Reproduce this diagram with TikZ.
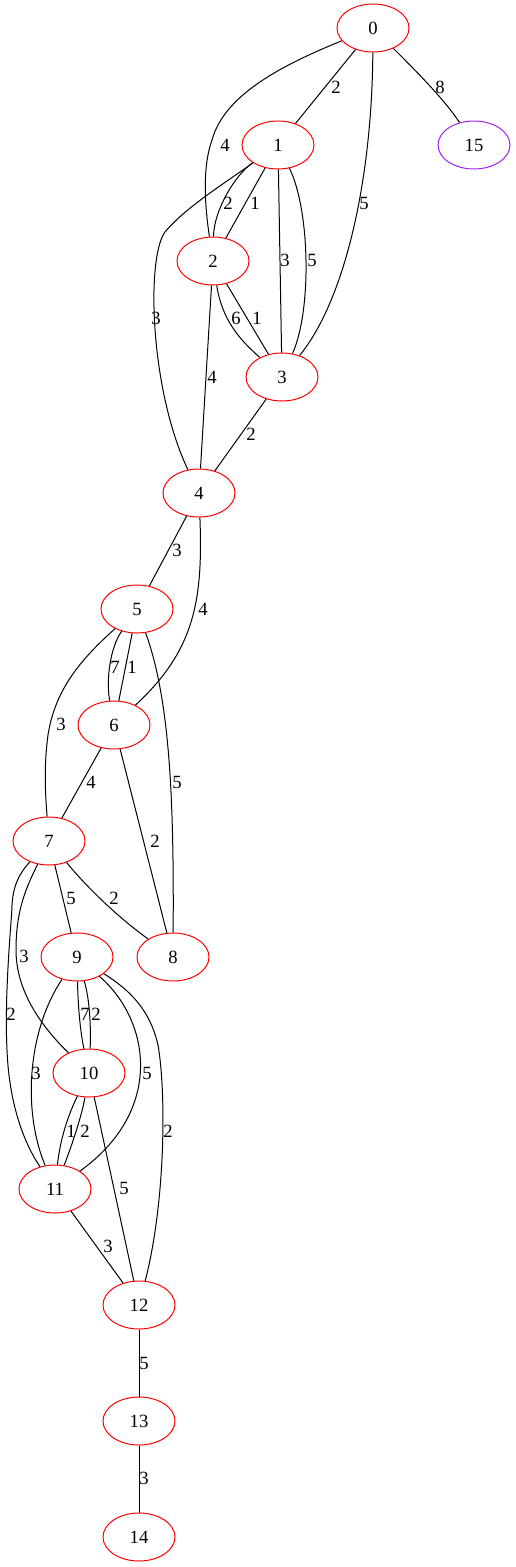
\documentclass[tikz,border=0pt]{standalone}
\usepackage{fontspec}
\setmainfont{Liberation Serif}
\usetikzlibrary{shapes.geometric}
\definecolor{gvpurple}{RGB}{160,32,240}
\begin{document}
\begin{tikzpicture}[x=1pt,y=-1pt,
  vtx/.style={ellipse,draw=red,line width=1pt,minimum width=72pt,minimum height=48pt,inner sep=0pt,font=\fontsize{18.67}{20}\selectfont},
  vtxp/.style={vtx,draw=gvpurple},
  lbl/.style={inner sep=0pt,font=\fontsize{18.67}{20}\selectfont},
  link/.style={draw=black,line width=1pt}]
\useasboundingbox (0,0) rectangle (516,1567);
% vertices
\node[vtx] (n0) at (373,28) {0};
\node[vtx] (n1) at (278,145) {1};
\node[vtxp] (n15) at (474,145) {15};
\node[vtx] (n2) at (213,261) {2};
\node[vtx] (n3) at (282,377) {3};
\node[vtx] (n4) at (199,493) {4};
\node[vtx] (n5) at (137,609) {5};
\node[vtx] (n6) at (114,725) {6};
\node[vtx] (n7) at (49,841) {7};
\node[vtx] (n9) at (77,957) {9};
\node[vtx] (n8) at (173,957) {8};
\node[vtx] (n10) at (89,1073) {10};
\node[vtx] (n11) at (55,1189) {11};
\node[vtx] (n12) at (139,1305) {12};
\node[vtx] (n13) at (139,1421) {13};
\node[vtx] (n14) at (139,1537) {14};
% edges
\draw[link] (n0) -- (n1);
\draw[link] (n0) .. controls (415,70) and (445,100) .. (n15);
\draw[link] (n0) .. controls (290,62) and (225,92) .. (212,140) .. controls (203,165) and (204,200) .. (n2);
\draw[link] (n0) .. controls (372,180) and (345,300) .. (n3);
\draw[link] (n1) .. controls (235,175) and (214,210) .. (n2);
\draw[link] (n1) -- (n2);
\draw[link] (n1) -- (n3);
\draw[link] (n1) .. controls (310,210) and (312,310) .. (n3);
\draw[link] (n1) .. controls (222,185) and (185,208) .. (165,232) .. controls (146,258) and (150,390) .. (n4);
\draw[link] (n2) .. controls (222,320) and (240,340) .. (n3);
\draw[link] (n2) -- (n3);
\draw[link] (n2) -- (n4);
\draw[link] (n3) -- (n4);
\draw[link] (n4) -- (n5);
\draw[link] (n4) .. controls (203,600) and (195,650) .. (n6);
\draw[link] (n5) .. controls (110,648) and (106,680) .. (n6);
\draw[link] (n5) -- (n6);
\draw[link] (n5) .. controls (80,660) and (55,690) .. (48,735) .. controls (44,765) and (45,790) .. (n7);
\draw[link] (n5) .. controls (170,700) and (174,800) .. (n8);
\draw[link] (n6) -- (n7);
\draw[link] (n6) -- (n8);
\draw[link] (n7) -- (n9);
\draw[link] (n7) .. controls (85,885) and (115,915) .. (n8);
\draw[link] (n7) .. controls (26,888) and (16,910) .. (16,950) .. controls (16,990) and (40,1025) .. (n10);
\draw[link] (n7) .. controls (15,878) and (12,893) .. (11.7,913) .. controls (8,960) and (5,1010) .. (7,1050) .. controls (9,1100) and (22,1140) .. (n11);
\draw[link] (n9) .. controls (78,1005) and (80,1030) .. (n10);
\draw[link] (n9) .. controls (90,1000) and (91,1030) .. (n10);
\draw[link] (n9) .. controls (28,1030) and (22,1110) .. (n11);
\draw[link] (n9) .. controls (150,1020) and (165,1110) .. (n11);
\draw[link] (n9) .. controls (130,990) and (150,1010) .. (158,1045) .. controls (166,1090) and (166,1200) .. (n12);
\draw[link] (n10) .. controls (68,1115) and (60,1140) .. (n11);
\draw[link] (n10) .. controls (82,1115) and (72,1145) .. (n11);
\draw[link] (n10) -- (n12);
\draw[link] (n11) -- (n12);
\draw[link] (n12) -- (n13);
\draw[link] (n13) -- (n14);
% edge labels
\node[lbl] (l01) at (336,87) {2};
\node[lbl] (l015) at (440,87) {8};
\node[lbl] (l02) at (225,145) {4};
\node[lbl] (l03) at (364,203) {5};
\node[lbl] (l12a) at (228,203) {2};
\node[lbl] (l12b) at (255,203) {1};
\node[lbl] (l13a) at (285,260) {3};
\node[lbl] (l13b) at (312,260) {5};
\node[lbl] (l14) at (156,318) {3};
\node[lbl] (l23a) at (236,318) {6};
\node[lbl] (l23b) at (257,318) {1};
\node[lbl] (l24) at (212,377) {4};
\node[lbl] (l34) at (251,434) {2};
\node[lbl] (l45) at (177,550) {3};
\node[lbl] (l46) at (203,609) {4};
\node[lbl] (l56a) at (115,667) {7};
\node[lbl] (l56b) at (132,667) {1};
\node[lbl] (l57) at (61,724) {3};
\node[lbl] (l58) at (177,782) {5};
\node[lbl] (l67) at (91,782) {4};
\node[lbl] (l68) at (155,841) {2};
\node[lbl] (l79) at (71,898) {5};
\node[lbl] (l78) at (114,898) {2};
\node[lbl] (l710) at (24,956) {3};
\node[lbl] (l711) at (11,1014) {2};
\node[lbl] (l910a) at (85,1014) {7};
\node[lbl] (l910b) at (96,1014) {2};
\node[lbl] (l911a) at (36,1073) {3};
\node[lbl] (l911b) at (147,1073) {5};
\node[lbl] (l1011a) at (71,1131) {1};
\node[lbl] (l1011b) at (85,1131) {2};
\node[lbl] (l912) at (168,1131) {2};
\node[lbl] (l1012) at (124,1188) {5};
\node[lbl] (l1112) at (108,1246) {3};
\node[lbl] (l1213) at (144,1363) {5};
\node[lbl] (l1314) at (144,1478) {3};
\end{tikzpicture}
\end{document}
